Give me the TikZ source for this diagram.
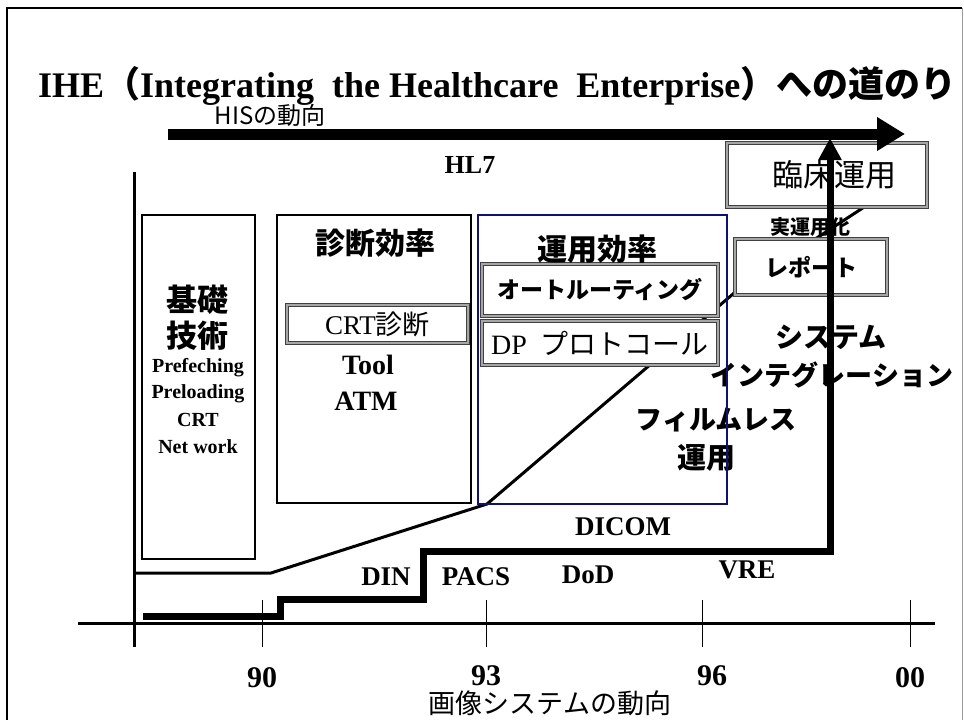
\documentclass[tikz,border=0pt]{standalone}
\usepackage{fontspec}
\setmainfont{Liberation Serif}
\newfontfamily\jp{Noto Sans CJK JP}
\usetikzlibrary{arrows.meta}
\definecolor{navyb}{RGB}{16,16,112}
\newcommand{\fs}[1]{\fontsize{#1}{#1}\selectfont}
\tikzset{
  bev/.style={draw=black!75, double=black!35, double distance=2pt, line width=0.9pt, fill=white, inner sep=0pt},
  plainbox/.style={draw=black, line width=2.8pt},
  lbl/.style={inner sep=0pt, font=\bfseries},
  jtxt/.style={inner sep=0pt, font=\jp},
  jbold/.style={inner sep=0pt, font=\jp\bfseries},
}
\begin{document}
\begin{tikzpicture}[x=1pt,y=-1pt]
\useasboundingbox (0,0) rectangle (964,720);
% frame
\draw[line width=2.5pt] (7,722) -- (7,8) -- (962,8);
\draw[black!40, line width=1pt] (962.5,8) -- (962.5,722);
% title
\node[inner sep=0pt, anchor=west] (title) at (38,86) {\fs{36}\bfseries IHE{\jp （}Integrating\ \ the Healthcare\ \ Enterprise{\jp ）への道のり}};
\node[jtxt] (his) at (270,115) {\fs{24}HISの動向};
\node[lbl] (hl7) at (470,165) {\fs{26}HL7};
% thin line
\draw[line width=3pt, line join=round] (134,573) -- (271,573) -- (487,504) -- (740,288) -- (875,200);
% boxes
\node[plainbox, fill=white, minimum width=113pt, minimum height=344pt, inner sep=0pt] (b1) at (198.5,387) {};
\node[plainbox, fill=white, minimum width=194pt, minimum height=288pt, inner sep=0pt] (b2) at (374,359) {};
\node[bev, minimum width=181pt, minimum height=38pt] (crt) at (377.5,324) {\fs{27}CRT{\jp 診断}};
\node[bev, minimum width=236pt, minimum height=52pt] (auto) at (600,290) {\jp\bfseries\fs{23}オートルーティング};
\node[bev, minimum width=236pt, minimum height=44pt] (dp) at (600,343) {\fs{28}DP\ \ {\jp プロトコール}};
\node[bev, minimum width=200pt, minimum height=64pt] (rinsho) at (827,175) {\jp\fs{31}\hspace{14pt}臨床運用};
\node[bev, minimum width=152pt, minimum height=56pt] (report) at (811,267) {\jp\bfseries\fs{23}レポート\hspace{12pt}};
% box 1 text
\node[jbold] (kiso) at (197,300) {\fs{31}基礎};
\node[jbold] (gijutsu) at (197,336) {\fs{31}技術};
\node[lbl] (pre1) at (198,368) {\fs{20}Prefeching};
\node[lbl] (pre2) at (198,394) {\fs{20}Preloading};
\node[lbl] (pre3) at (198,420) {\fs{20}CRT};
\node[lbl] (pre4) at (198,447) {\fs{20}Net work};
% box 2 text
\node[jbold] (shindan) at (375,243) {\fs{30}診断効率};
\node[lbl] (tool) at (368,365) {\fs{28}Tool};
\node[lbl] (atm) at (366,401) {\fs{28}ATM};
% box 3 text
\node[jbold] (unyo) at (597,249) {\fs{30}運用効率};
% right texts
\node[jbold] (jitsu) at (810,227) {\fs{20}実運用化};
\node[jbold] (sys) at (831,337) {\fs{28}システム};
\node[jbold] (integ) at (832,375) {\fs{27}インテグレーション};
\node[jbold] (film) at (716,420) {\fs{27}フィルムレス};
\node[jbold] (unyo2) at (706,458) {\fs{29}運用};
% navy box
\draw[navyb, line width=2.8pt] (478,215) rectangle (727,504);
% bottom labels
\node[lbl] (dicom) at (623,527) {\fs{27}DICOM};
\node[lbl] (din) at (386,577) {\fs{27}DIN};
\node[lbl] (pacs) at (476,577) {\fs{27}PACS};
\node[lbl] (dod) at (588,575) {\fs{27}DoD};
\node[lbl] (vre) at (747,570) {\fs{27}VRE};
% axes
\draw[line width=3pt] (78,623) -- (935,623);
\draw[line width=3pt] (134,172) -- (134,647);
\foreach \xx/\nm in {262/a,486/b,702/c,910/d} {
  \draw[line width=1pt] (\xx,600) -- (\xx,647);
}
\node[lbl] (t90) at (262,678) {\fs{30}90};
\node[lbl] (t93) at (486,676) {\fs{30}93};
\node[lbl] (t96) at (712,676) {\fs{30}96};
\node[lbl] (t00) at (910,678) {\fs{30}00};
\node[jtxt] (gazo) at (550,703) {\fs{27}画像システムの動向};
% step line with arrow
\draw[line width=7pt, -{Triangle[length=22pt,width=22pt]}] (143,616) -- (280,616) -- (280,599) -- (423,599) -- (423,551) -- (830,551) -- (830,138);
% HIS arrow
\draw[line width=11pt, -{Triangle[length=28pt,width=32pt]}] (168,134) -- (905,134);
\end{tikzpicture}
\end{document}
